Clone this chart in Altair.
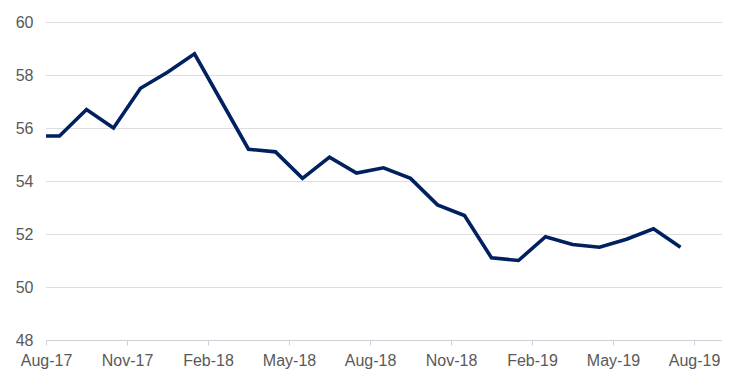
import altair as alt
import pandas as pd

# Monthly values (Jul-17 .. Jul-19); Jul-17 lies left of the axis start and is clipped
months = ["Jul-17", "Aug-17", "Sep-17", "Oct-17", "Nov-17", "Dec-17",
          "Jan-18", "Feb-18", "Mar-18", "Apr-18", "May-18", "Jun-18",
          "Jul-18", "Aug-18", "Sep-18", "Oct-18", "Nov-18", "Dec-18",
          "Jan-19", "Feb-19", "Mar-19", "Apr-19", "May-19", "Jun-19", "Jul-19"]
values = [55.7, 55.7, 56.7, 56.0, 57.5, 58.1,
          58.8, 57.0, 55.2, 55.1, 54.1, 54.9,
          54.3, 54.5, 54.1, 53.1, 52.7, 51.1,
          51.0, 51.9, 51.6, 51.5, 51.8, 52.2, 51.5]
tick_labels = ["Aug-17", "Nov-17", "Feb-18", "May-18", "Aug-18",
               "Nov-18", "Feb-19", "May-19", "Aug-19"]
y_ticks = [48, 50, 52, 54, 56, 58, 60]

df = pd.DataFrame({"month": months, "value": values, "order": list(range(len(months)))})

label_expr = "[" + ",".join("'%s'" % t for t in tick_labels) + "][round(datum.value/3)]"

font = "Liberation Sans"
chart = (
    alt.Chart(df)
    .transform_calculate(pos="datum.order - 0.5")
    .mark_line(color="#002060", strokeWidth=3.6, clip=True)
    .encode(
        x=alt.X("pos:Q",
                scale=alt.Scale(domain=[0, 25], nice=False, zero=False),
                axis=alt.Axis(values=[0, 3, 6, 9, 12, 15, 18, 21, 24],
                              labelExpr=label_expr, title=None, grid=False,
                              labelFlush=False, labelOverlap=False,
                              domainColor="#cdd1da", tickColor="#cdd1da",
                              tickSize=5, labelPadding=7, labelFont=font,
                              labelFontSize=16, labelColor="#595959")),
        y=alt.Y("value:Q",
                scale=alt.Scale(domain=[48, 60], nice=False, zero=False),
                axis=alt.Axis(values=y_ticks, title=None, ticks=False, domain=False,
                              gridColor="#bdbdbd", gridDash=[1, 1], gridWidth=1,
                              labelPadding=13, labelFont=font,
                              labelFontSize=16, labelColor="#595959")),
        order="order:Q",
    )
    .properties(width=675, height=318,
                autosize=alt.AutoSizeParams(type="none"),
                padding={"left": 38, "top": 14, "right": 15, "bottom": 35})
    .configure_view(stroke=None)
)

chart.save("out.html", embed_options={"renderer": "svg", "actions": False})
